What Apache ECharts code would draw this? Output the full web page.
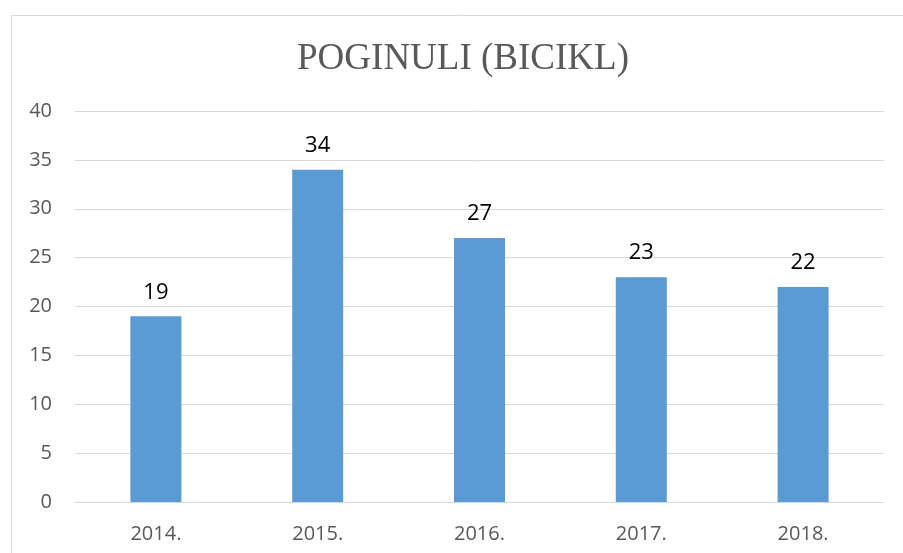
<meta charset="utf-8" />
<style>
html, body { margin: 0; padding: 0; background: #fff; }
#chart { width: 903px; height: 553px; }
</style>
<script src="https://cdn.jsdelivr.net/npm/echarts@6.0.0/dist/echarts.min.js"></script>
<div id="chart"></div>
<script>
const years = ['2014.', '2015.', '2016.', '2017.', '2018.'];
const counts = [19, 34, 27, 23, 22];

const chart = echarts.init(document.getElementById('chart'));
chart.setOption({
  animation: false,
  title: {
    text: 'POGINULI (BICIKL)',
    left: 458,
    top: 36,
    textAlign: 'center',
    textStyle: {
      fontFamily: 'Liberation Serif',
      fontWeight: 'normal',
      fontSize: 37,
      color: '#595959'
    }
  },
  graphic: [{
    type: 'rect',
    shape: { x: 11.5, y: 15.5, width: 1000, height: 1000 },
    style: { fill: 'none', stroke: '#d9d9d9', lineWidth: 1 },
    silent: true
  }],
  grid: { left: 75, right: 19, top: 111, bottom: 51 },
  xAxis: {
    type: 'category',
    data: years,
    axisLine: { lineStyle: { color: '#d9d9d9' } },
    axisTick: { show: false },
    axisLabel: { color: '#595959', fontFamily: 'Open Sans', fontSize: 20, margin: 22 }
  },
  yAxis: {
    type: 'value',
    min: 0,
    max: 40,
    interval: 5,
    axisLine: { show: false },
    axisTick: { show: false },
    splitLine: { lineStyle: { color: '#d9d9d9' } },
    axisLabel: { color: '#595959', fontFamily: 'Open Sans', fontSize: 20, margin: 23 }
  },
  series: [{
    type: 'bar',
    data: counts,
    barWidth: 51,
    itemStyle: { color: '#5b9bd5' },
    label: {
      show: true,
      position: 'top',
      distance: 13,
      color: '#000',
      fontFamily: 'Open Sans',
      fontSize: 22
    }
  }]
});
</script>
